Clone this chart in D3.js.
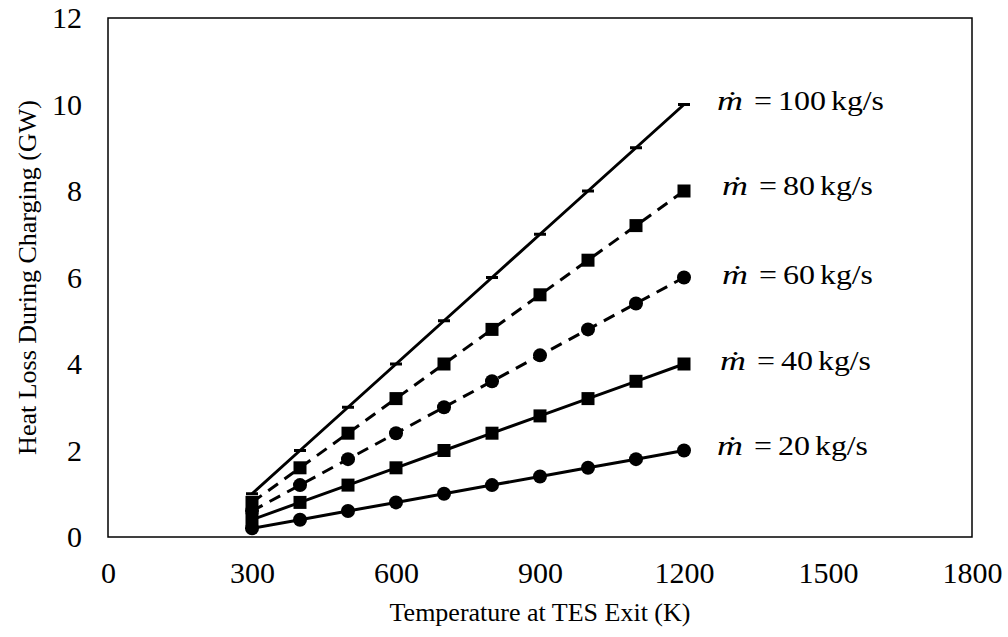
<!DOCTYPE html>
<html>
<head>
<meta charset="utf-8">
<script src="https://cdn.jsdelivr.net/npm/d3@7"></script>
<style>
  html, body { margin: 0; padding: 0; background: #fff; }
  svg { display: block; font-family: "Liberation Serif", "Times New Roman", serif; }
  svg text { font-family: "Liberation Serif", "Times New Roman", serif; }
</style>
</head>
<body>
<svg id="chart" width="1008" height="637"></svg>
<script>
// Exit temperatures (K)
const temperatures = [300, 400, 500, 600, 700, 800, 900, 1000, 1100, 1200];

// Heat loss during charging (GW) for each mass flow rate
const flow100 = [1.0, 2.0, 3.0, 4.0, 5.0, 6.0, 7.0, 8.0, 9.0, 10.0];
const flow80  = [0.8, 1.6, 2.4, 3.2, 4.0, 4.8, 5.6, 6.4, 7.2, 8.0];
const flow60  = [0.6, 1.2, 1.8, 2.4, 3.0, 3.6, 4.2, 4.8, 5.4, 6.0];
const flow40  = [0.4, 0.8, 1.2, 1.6, 2.0, 2.4, 2.8, 3.2, 3.6, 4.0];
const flow20  = [0.2, 0.4, 0.6, 0.8, 1.0, 1.2, 1.4, 1.6, 1.8, 2.0];

const flowRates = [100, 80, 60, 40, 20];
const flowUnit = "kg/s";

const xTicks = [0, 300, 600, 900, 1200, 1500, 1800];
const yTicks = [0, 2, 4, 6, 8, 10, 12];

const series = [
  { rate: flowRates[0], values: flow100, marker: "dash",   dashed: false },
  { rate: flowRates[1], values: flow80,  marker: "square", dashed: true  },
  { rate: flowRates[2], values: flow60,  marker: "circle", dashed: true  },
  { rate: flowRates[3], values: flow40,  marker: "square", dashed: false },
  { rate: flowRates[4], values: flow20,  marker: "circle", dashed: false }
];

const FONT = "'Liberation Serif', 'Times New Roman', serif";
const svg = d3.select("#chart");
const margin = { left: 108, right: 36, top: 18, bottom: 100 };
const W = 1008, H = 637;
const plotW = W - margin.left - margin.right;
const plotH = H - margin.top - margin.bottom;

const x = d3.scaleLinear().domain([0, 1800]).range([margin.left, margin.left + plotW]);
const y = d3.scaleLinear().domain([0, 12]).range([margin.top + plotH, margin.top]);

// Plot frame
svg.append("rect")
  .attr("x", x(0)).attr("y", y(12))
  .attr("width", x(1800) - x(0)).attr("height", y(0) - y(12))
  .attr("fill", "none").attr("stroke", "#000").attr("stroke-width", 1.5);

// Axes (labels only, no tick marks)
const xAxis = d3.axisBottom(x).tickValues(xTicks).tickSize(0).tickPadding(25).tickFormat(d3.format("d"));
const yAxis = d3.axisLeft(y).tickValues(yTicks).tickSize(0).tickPadding(26).tickFormat(d3.format("d"));

const gx = svg.append("g").attr("transform", `translate(0,${y(0)})`).call(xAxis);
const gy = svg.append("g").attr("transform", `translate(${x(0)},0)`).call(yAxis);
[gx, gy].forEach(g => {
  g.attr("font-family", FONT).attr("font-size", 30);
  g.select(".domain").remove();
  g.selectAll("text").attr("fill", "#000");
});

// Axis titles
svg.append("text")
  .attr("x", x(900)).attr("y", 621)
  .attr("text-anchor", "middle")
  .attr("font-family", FONT).attr("font-size", 26)
  .text("Temperature at TES Exit (K)");

svg.append("text")
  .attr("transform", `translate(36,${y(6)}) rotate(-90)`)
  .attr("text-anchor", "middle")
  .attr("font-family", FONT).attr("font-size", 26)
  .text("Heat Loss During Charging (GW)");

// Lines
const line = d3.line()
  .x((d, i) => x(temperatures[i]))
  .y(d => y(d));

const gSeries = svg.append("g");
series.forEach(s => {
  gSeries.append("path")
    .datum(s.values)
    .attr("d", line)
    .attr("fill", "none")
    .attr("stroke", "#000")
    .attr("stroke-width", 3)
    .attr("stroke-dasharray", s.dashed ? "12,8" : null);
});

// Markers
series.forEach(s => {
  const pts = s.values.map((v, i) => ({ t: temperatures[i], v }));
  const g = gSeries.append("g");
  if (s.marker === "circle") {
    g.selectAll("circle").data(pts).join("circle")
      .attr("cx", d => x(d.t)).attr("cy", d => y(d.v))
      .attr("r", 7).attr("fill", "#000");
  } else if (s.marker === "square") {
    g.selectAll("rect").data(pts).join("rect")
      .attr("x", d => x(d.t) - 6.5).attr("y", d => y(d.v) - 6.5)
      .attr("width", 13).attr("height", 13).attr("fill", "#000");
  } else {
    g.selectAll("rect").data(pts).join("rect")
      .attr("x", d => x(d.t) - 6).attr("y", d => y(d.v) - 1.5)
      .attr("width", 12).attr("height", 3).attr("fill", "#000");
  }
});

// Series labels: ṁ = ... kg/s, set in equation-style spacing
const labelPos = [
  { x: 717, y: 110 },
  { x: 722, y: 195 },
  { x: 722, y: 284 },
  { x: 720, y: 370 },
  { x: 717, y: 455 }
];
series.forEach((s, i) => {
  const x0 = labelPos[i].x, y0 = labelPos[i].y;
  const num = String(s.rate);
  const numW = num.length * 16;
  const g = svg.append("g").attr("font-family", FONT).attr("font-size", 28).attr("fill", "#000");
  g.append("text").attr("x", x0).attr("y", y0)
    .attr("font-style", "italic")
    .attr("textLength", 26).attr("lengthAdjust", "spacingAndGlyphs")
    .text("\u1E41");
  g.append("text").attr("x", x0 + 37).attr("y", y0)
    .attr("textLength", 18).attr("lengthAdjust", "spacingAndGlyphs")
    .text("=");
  g.append("text").attr("x", x0 + 61).attr("y", y0)
    .attr("textLength", numW).attr("lengthAdjust", "spacingAndGlyphs")
    .text(num);
  g.append("text").attr("x", x0 + 61 + numW + 5).attr("y", y0)
    .attr("textLength", 53).attr("lengthAdjust", "spacingAndGlyphs")
    .text(flowUnit);
});
</script>
</body>
</html>
